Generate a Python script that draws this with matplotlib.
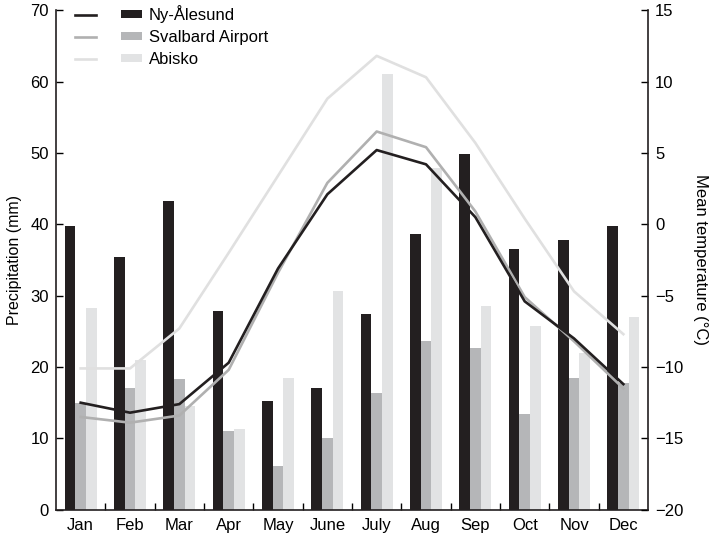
import numpy as np
import matplotlib
matplotlib.use("Agg")
import matplotlib.pyplot as plt
from matplotlib.legend_handler import HandlerTuple

plt.rcParams['font.family'] = ['Liberation Sans', 'DejaVu Sans']

months = ["Jan", "Feb", "Mar", "Apr", "May", "June",
          "July", "Aug", "Sep", "Oct", "Nov", "Dec"]

# precipitation (mm)
prec_ny = [39.8, 35.4, 43.3, 27.9, 15.2, 17.0, 27.4, 38.6, 49.8, 36.6, 37.8, 39.7]
prec_sv = [15.0, 17.0, 18.3, 11.1, 6.1, 10.0, 16.3, 23.6, 22.7, 13.4, 18.4, 17.7]
prec_ab = [28.2, 21.0, 14.6, 11.3, 18.4, 30.6, 61.0, 47.9, 28.6, 25.7, 22.0, 27.0]

# mean temperature (C)
temp_ny = [-12.5, -13.2, -12.6, -9.7, -3.1, 2.1, 5.2, 4.2, 0.5, -5.4, -8.0, -11.2]
temp_sv = [-13.5, -13.9, -13.4, -10.2, -3.4, 2.9, 6.5, 5.4, 0.9, -5.1, -8.2, -11.5]
temp_ab = [-10.1, -10.1, -7.3, -2.0, 3.4, 8.8, 11.8, 10.3, 5.7, 0.4, -4.7, -7.7]

c_dark = "#231f20"
c_mid = "#b5b6b8"
c_light = "#e2e3e4"
c_line_mid = "#b0b0b0"
c_line_light = "#e0e0e0"

fig = plt.figure(figsize=(7.09, 5.36), dpi=100)
ax = fig.add_axes([0.079, 0.049, 0.835, 0.932])
ax2 = ax.twinx()

x = np.arange(12) + 0.5
w = 0.215
b1 = ax.bar(x - w, prec_ny, w, color=c_dark)
b2 = ax.bar(x, prec_sv, w, color=c_mid)
b3 = ax.bar(x + w, prec_ab, w, color=c_light)

l1, = ax2.plot(x, temp_ny, color=c_dark, lw=1.9)
l2, = ax2.plot(x, temp_sv, color=c_line_mid, lw=1.9)
l3, = ax2.plot(x, temp_ab, color=c_line_light, lw=1.9)
# keep lines above bars
ax2.set_zorder(ax.get_zorder() + 1)
ax2.patch.set_visible(False)
l1.set_zorder(3)

ax.set_xlim(0, 12)
ax.set_ylim(0, 70)
ax2.set_ylim(-20, 15)

ax.set_xticks(np.arange(1, 12))
ax.set_xticklabels([])
ax.set_xticks(x, minor=True)
ax.set_xticklabels(months, minor=True)
ax.tick_params(axis='x', which='minor', length=0, labelsize=12, pad=6)
ax.tick_params(axis='x', which='major', direction='in', length=5, width=1)
ax.set_yticks(np.arange(0, 71, 10))
ax.tick_params(axis='y', direction='in', length=5, width=1, labelsize=12, pad=5)
ax2.set_yticks(np.arange(-20, 16, 5))
ax2.set_yticklabels([str(v).replace('-', '\u2212') for v in range(-20, 16, 5)])
ax2.tick_params(axis='y', direction='in', length=5, width=1, labelsize=12, pad=5)

for a in (ax, ax2):
    a.spines['top'].set_visible(False)
    for s in ('left', 'right', 'bottom'):
        a.spines[s].set_linewidth(1.2)
        a.spines[s].set_color(c_dark)
ax.spines['right'].set_visible(False)
ax2.spines['left'].set_visible(False)
ax2.spines['bottom'].set_visible(False)

ax.set_ylabel("Precipitation (mm)", fontsize=11.5, labelpad=6)
ax2.set_ylabel("Mean temperature (\u00b0C)", fontsize=12, rotation=270, labelpad=18)

ax2.legend([(l1, b1), (l2, b2), (l3, b3)], ["Ny-\u00c5lesund", "Svalbard Airport", "Abisko"],
           handler_map={tuple: HandlerTuple(ndivide=None, pad=1.5)},
           loc='upper left', bbox_to_anchor=(0.021, 1.024), frameon=False,
           fontsize=12, handlelength=4.0, handleheight=0.42, labelspacing=0.42,
           handletextpad=0.42, borderpad=0.4, borderaxespad=0)

fig.savefig("out.png", dpi=100)
